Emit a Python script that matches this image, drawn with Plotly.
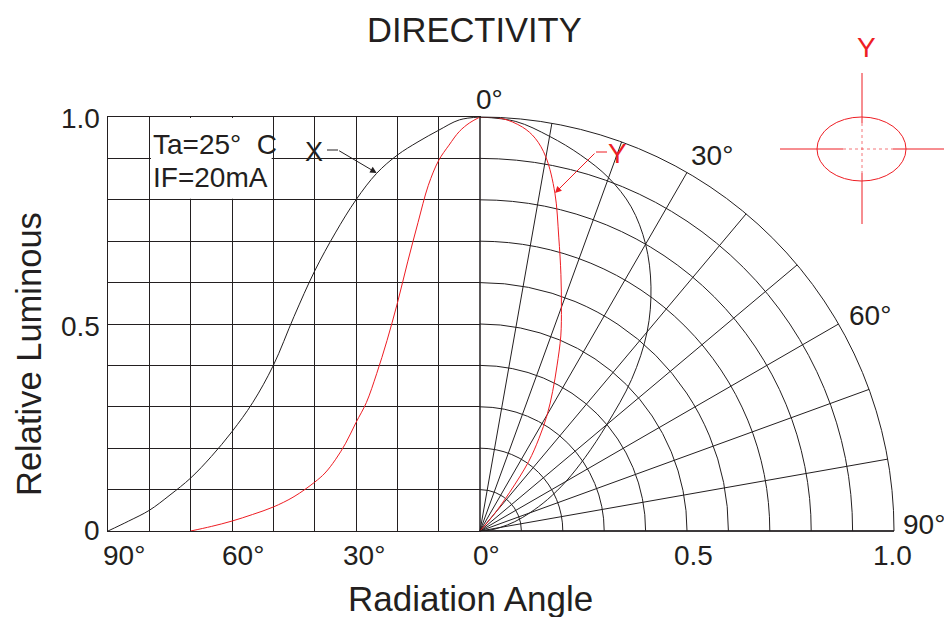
import plotly.graph_objects as go

# ---------------- data ----------------
# X direction (black) - relative luminous vs radiation angle
angles_x = [0, 5, 10, 15, 20, 25, 30, 35, 40, 45, 50, 55, 60, 65, 70, 75, 80, 85, 90]
lum_x = [1.0, 0.993, 0.968, 0.94, 0.908, 0.864, 0.80, 0.72, 0.628, 0.518, 0.40, 0.31,
         0.24, 0.18, 0.128, 0.087, 0.05, 0.024, 0.0]

# Y direction (red) - as read on the left (rectangular) panel
angles_y = [0, 2.5, 5, 7.5, 10, 12.5, 15, 17.5, 20, 22.5, 25, 27.5, 30, 32.5, 35, 37.5,
            40, 45, 50, 55, 60, 65, 70]
lum_y = [1.0, 0.986, 0.965, 0.932, 0.895, 0.835, 0.745, 0.65, 0.55, 0.46, 0.38, 0.31,
         0.262, 0.212, 0.172, 0.14, 0.118, 0.083, 0.058, 0.04, 0.024, 0.011, 0.0]

# Y direction (red) - as read on the right (polar) panel
angles_y_polar = [0, 3, 6, 8, 10, 12.5, 15, 17.5, 20, 22.5, 25, 27.5, 30, 32.5, 35,
                  37.5, 40, 42.5]
lum_y_polar = [1.0, 0.998, 0.981, 0.958, 0.917, 0.836, 0.735, 0.65, 0.575, 0.51, 0.44,
               0.38, 0.325, 0.265, 0.205, 0.118, 0.052, 0.0]

angle_grid = [0, 10, 20, 30, 40, 50, 60, 70, 80, 90]
lum_grid = [0, 0.1, 0.2, 0.3, 0.4, 0.5, 0.6, 0.7, 0.8, 0.9, 1.0]

angle_tick_labels = ["90°", "60°", "30°", "0°"]
radius_tick_labels = ["0.5", "1.0"]
lum_tick_labels = ["1.0", "0.5", "0"]
polar_angle_labels = ["0°", "30°", "60°", "90°"]

# ---------------- styling / layout ----------------
W, H = 944, 617
LEFT, CENTER, RIGHT, TOP, BOTTOM = 108, 480, 894, 117, 531
INK = "#231F20"
RED = "#EE1D23"
FONT = "Liberation Sans, Arial, sans-serif"


def px(x):
    return x / W


def py(y):
    return 1 - y / H


fig = go.Figure()

line_black = dict(color=INK, width=1, shape="spline", smoothing=1.0)
line_red = dict(color=RED, width=1, shape="spline", smoothing=1.0)

# Cartesian (left) curves
fig.add_trace(go.Scatter(x=angles_x, y=lum_x, mode="lines", line=line_black,
                         hoverinfo="skip", showlegend=False))
fig.add_trace(go.Scatter(x=angles_y, y=lum_y, mode="lines", line=line_red,
                         hoverinfo="skip", showlegend=False))

# Polar (right) curves
fig.add_trace(go.Scatterpolar(r=lum_x, theta=angles_x, mode="lines", line=line_black,
                              hoverinfo="skip", showlegend=False, subplot="polar"))
fig.add_trace(go.Scatterpolar(r=lum_y_polar, theta=angles_y_polar, mode="lines",
                              line=line_red, hoverinfo="skip", showlegend=False,
                              subplot="polar"))

axis_common = dict(showgrid=True, gridcolor=INK, gridwidth=1, showticklabels=False,
                   ticks="", showline=True, mirror=True, linecolor=INK, linewidth=1,
                   zeroline=False, fixedrange=True)

fig.update_layout(
    width=W, height=H, autosize=False,
    margin=dict(l=0, r=0, t=0, b=0),
    paper_bgcolor="white", plot_bgcolor="white",
    showlegend=False,
    font=dict(family=FONT, color=INK),
    xaxis=dict(domain=[px(LEFT), px(CENTER)], range=[90, 0], tickvals=angle_grid, **axis_common),
    yaxis=dict(domain=[py(BOTTOM), py(TOP)], range=[0, 1], tickvals=lum_grid, **axis_common),
    polar=dict(
        domain=dict(x=[px(CENTER), px(RIGHT)], y=[py(BOTTOM), py(TOP)]),
        sector=[0, 90],
        bgcolor="white",
        radialaxis=dict(range=[0, 1], tickvals=lum_grid, showticklabels=False, ticks="",
                        showgrid=True, gridcolor=INK, gridwidth=1, showline=True,
                        linecolor=INK, linewidth=1, angle=0),
        angularaxis=dict(rotation=90, direction="clockwise", tickvals=angle_grid,
                         showticklabels=False, ticks="", showgrid=True, gridcolor=INK,
                         gridwidth=1, showline=True, linecolor=INK, linewidth=1),
    ),
)

shapes = []
# white box for the conditions text (hides the grid behind it)
shapes.append(dict(type="rect", xref="x", yref="y", x0=79.6, x1=50.4, y0=0.8025, y1=0.9975,
                   fillcolor="white", line=dict(width=0), layer="above"))
# X leader horizontal bit
shapes.append(dict(type="line", xref="paper", yref="paper", x0=px(327), x1=px(338),
                   y0=py(150), y1=py(150), line=dict(color=INK, width=1)))
# Y leader horizontal bit
shapes.append(dict(type="line", xref="paper", yref="paper", x0=px(596), x1=px(607),
                   y0=py(152), y1=py(152), line=dict(color=RED, width=1)))
# inset: Y ellipse + crosshair
shapes.append(dict(type="circle", xref="paper", yref="paper", x0=px(817), x1=px(906),
                   y0=py(181), y1=py(117), line=dict(color=RED, width=1)))
for (x0, y0, x1, y1) in [(862, 73, 862, 123), (862, 173, 862, 224),
                         (780, 149, 843, 149), (893, 149, 944, 149)]:
    shapes.append(dict(type="line", xref="paper", yref="paper", x0=px(x0), x1=px(x1),
                       y0=py(y0), y1=py(y1), line=dict(color=RED, width=1)))
for (x0, y0, x1, y1) in [(862, 123, 862, 173), (843, 149, 893, 149)]:
    shapes.append(dict(type="line", xref="paper", yref="paper", x0=px(x0), x1=px(x1),
                       y0=py(y0), y1=py(y1), line=dict(color=RED, width=1, dash="dot"),
                       opacity=0.6))
fig.update_layout(shapes=shapes)

ann = []


def text(t, x, y, size, color=INK, xanchor="center", yanchor="middle", angle=0):
    ann.append(dict(text=t, x=px(x), y=py(y), xref="paper", yref="paper", showarrow=False,
                    font=dict(size=size, color=color, family=FONT), xanchor=xanchor,
                    yanchor=yanchor, textangle=angle))


text("DIRECTIVITY", 474, 30, 34.5)
text("Relative Luminous", 29, 354, 34.5, angle=-90)
text("Radiation Angle", 470, 598, 35)

for lab, cx in zip(angle_tick_labels, [124, 243, 364, 486.5]):
    text(lab, cx, 555, 28)
for lab, cx in zip(radius_tick_labels, [693, 892]):
    text(lab, cx, 555, 28)
for lab, cy in zip(lum_tick_labels, [119, 326, 530]):
    text(lab, 102, cy, 28, xanchor="right")
for lab, (cx, cy) in zip(polar_angle_labels, [(489.5, 99), (712, 156), (870, 315), (924, 524)]):
    text(lab, cx, cy, 28)

text("Ta=25°\u00a0\u00a0C", 151, 144, 28, xanchor="left")
text("IF=20mA", 151, 178, 28, xanchor="left")
text("X", 314, 152, 27)
text("Y", 617.5, 153, 28, color=RED)
text("Y", 866.5, 48, 28, color=RED)

# arrows
ann.append(dict(x=25, y=0.865, xref="x", yref="y", ax=338 - 377, ay=150 - 173,
                axref="pixel", ayref="pixel", text="", showarrow=True, arrowhead=2,
                arrowsize=1.3, arrowwidth=1, arrowcolor=INK, standoff=0))
ann.append(dict(x=px(555), y=py(193), xref="paper", yref="paper", ax=596 - 555, ay=152 - 193,
                text="", showarrow=True, arrowhead=2, arrowsize=1.3, arrowwidth=1,
                arrowcolor=RED, standoff=0))
fig.update_layout(annotations=ann)

fig.write_html("out.html", config={"displayModeBar": False},
               post_script="document.body.style.margin='0';document.body.style.padding='0';"
                           "document.body.style.overflow='hidden';")
